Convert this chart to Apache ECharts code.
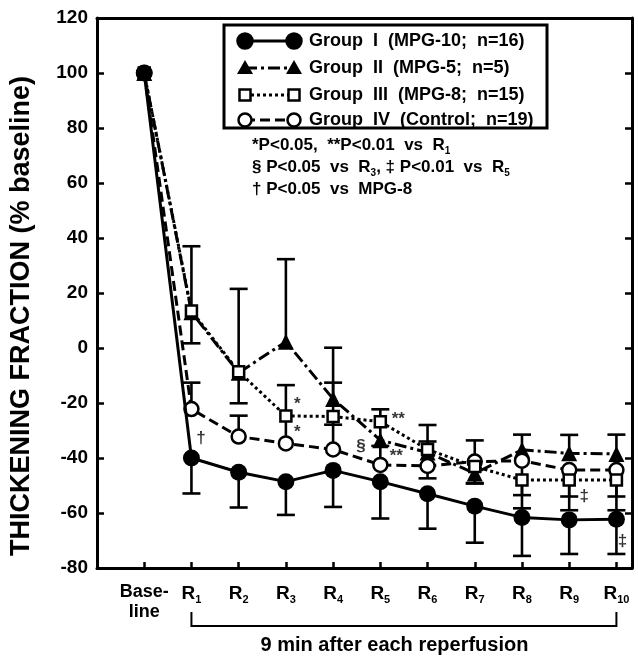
<!DOCTYPE html>
<html>
<head>
<meta charset="utf-8">
<script src="https://cdn.jsdelivr.net/npm/echarts@6/dist/echarts.min.js"></script>
<style>
  html, body { margin: 0; padding: 0; background: #fff; }
  #chart { width: 638px; height: 656px; }
</style>
</head>
<body>
<div id="chart"></div>
<script>
// x positions: 0 = baseline, 1..10 = R1..R10
const xPos = [0, 1, 2, 3, 4, 5, 6, 7, 8, 9, 10];
const xLabels = ['Base-|line', 'R|1', 'R|2', 'R|3', 'R|4', 'R|5', 'R|6', 'R|7', 'R|8', 'R|9', 'R|10'];

const groupNames = [
  'Group  I  (MPG-10;  n=16)',
  'Group  II  (MPG-5;  n=5)',
  'Group  III  (MPG-8;  n=15)',
  'Group  IV  (Control;  n=19)'
];

// Group I  (MPG-10) filled circles, solid line, bars drawn downward
const group1 = [100, -40, -45.2, -48.6, -44.5, -48.6, -53, -57.5, -61.6, -62.5, -62.3];
const group1Down = [0, 12.9, 12.8, 12.1, 13.3, 13.4, 12.7, 13.3, 14, 12.4, 12.6];

// Group II (MPG-5) filled triangles, dash-dot line, bars drawn upward
const group2 = [100, 13, -9, 2.3, -18.5, -33.5, -38, -45.6, -37, -38.3, -38.5];
const group2Up = [0, 24, 30.5, 30, 18.6, 11.2, 10, 12, 5.5, 6.7, 7];

// Group III (MPG-8) open squares, dotted line, bars drawn downward
const group3 = [100, 13.5, -8.6, -24.7, -24.9, -26.8, -36.9, -43.1, -48, -48, -48];
const group3Down = [0, 11.8, 11.5, 0, 3, 0, 10.5, 6, 5.5, 6, 6];

// Group IV (control) open circles, dashed line
const group4 = [100, -22.2, -32.2, -34.7, -36.9, -42.5, -42.9, -41.3, -41, -44.4, -44.4];
const group4Up = [0, 9.6, 7.6, 21.2, 24.3, 6.9, 8.9, 0, 0, 0, 0];
const group4Down = [0, 0, 0, 0, 0, 0, 0, 8, 17.3, 14.6, 14.6];

// significance marks inside the plot [x, y, text]
const sigMarks = [
  [3.24, -20.4, '*'], [3.24, -30.8, '*'], [1.2, -32.7, '†'], [4.59, -35.6, '§'],
  [5.38, -25.8, '**'], [5.34, -39.5, '**'], [9.32, -54, '‡'], [10.13, -70.4, '‡']
];

const FONT = '"Liberation Sans", Arial, Helvetica, sans-serif';
const chart = echarts.init(document.getElementById('chart'));

function errorBars(name, values, up, down) {
  return {
    name: name, type: 'custom', z: 1, silent: true,
    renderItem: function (params, api) {
      const x = api.value(0), y = api.value(1);
      const c = api.coord([x, y]);
      const kids = [];
      [[api.value(2), 1], [api.value(3), -1]].forEach(function (p) {
        if (!(p[0] > 0)) return;
        const e = api.coord([x, y + p[1] * p[0]]);
        kids.push({ type: 'line', shape: { x1: c[0], y1: c[1], x2: e[0], y2: e[1] },
          style: { stroke: '#000', lineWidth: 2.6 } });
        kids.push({ type: 'line', shape: { x1: e[0] - 9, y1: e[1], x2: e[0] + 9, y2: e[1] },
          style: { stroke: '#000', lineWidth: 2.6 } });
      });
      return { type: 'group', children: kids };
    },
    data: values.map(function (v, i) { return [xPos[i], v, up[i], down[i]]; })
  };
}

function lineSeries(name, values, symbol, size, filled, dash, width, z) {
  return {
    name: name, type: 'line', z: z,
    data: values.map(function (v, i) { return [xPos[i], v]; }),
    symbol: symbol, symbolSize: size, showAllSymbol: true,
    lineStyle: { color: '#000', width: width, type: dash },
    itemStyle: { color: filled ? '#000' : '#fff', borderColor: '#000', borderWidth: filled ? 0 : 2.5, opacity: 1 },
    emphasis: { disabled: true }
  };
}

const axisCommon = {
  axisLine: { show: true, onZero: false, lineStyle: { color: '#000', width: 3 } },
  splitLine: { show: false }
};

chart.setOption({
  animation: false,
  grid: { left: 97, right: 6, top: 18, bottom: 88 },
  xAxis: [
    Object.assign({
      type: 'value', min: -1, max: 10.33, interval: 1, position: 'bottom',
      axisTick: { show: true, inside: true, length: 6, lineStyle: { color: '#000', width: 2.5 } },
      axisLabel: {
        margin: 14, color: '#000',
        formatter: function (v) {
          if (v < 0 || Math.abs(v - Math.round(v)) > 0.01) return '';
          const parts = xLabels[Math.round(v)].split('|');
          if (parts[0] === 'R') return '{r|R}{s|' + parts[1] + '}';
          return '{b|' + parts[0] + '}\n{b|' + parts[1] + '}';
        },
        rich: {
          b: { fontSize: 18, fontWeight: 'bold', fontFamily: FONT, lineHeight: 20, color: '#000' },
          r: { fontSize: 19, fontWeight: 'bold', fontFamily: FONT, lineHeight: 23, verticalAlign: 'middle', color: '#000' },
          s: { fontSize: 11, fontWeight: 'bold', fontFamily: FONT, lineHeight: 23, verticalAlign: 'bottom', color: '#000' }
        }
      }
    }, axisCommon),
    Object.assign({
      type: 'value', min: -1, max: 10.33, position: 'top',
      axisTick: { show: false }, axisLabel: { show: false }
    }, axisCommon)
  ],
  yAxis: [
    Object.assign({
      type: 'value', min: -80, max: 120, interval: 20,
      axisTick: { show: true, inside: true, length: 7, lineStyle: { color: '#000', width: 2.5 } },
      axisLabel: { fontSize: 19, fontWeight: 'bold', fontFamily: FONT, color: '#000', margin: 9 }
    }, axisCommon),
    Object.assign({
      type: 'value', min: -80, max: 120, interval: 20, position: 'right',
      axisTick: { show: true, inside: true, length: 7, lineStyle: { color: '#000', width: 2.5 } },
      axisLabel: { show: false }
    }, axisCommon)
  ],
  series: [
    errorBars('g1err', group1, group1.map(function () { return 0; }), group1Down),
    errorBars('g2err', group2, group2Up, group2.map(function () { return 0; })),
    errorBars('g3err', group3, group3.map(function () { return 0; }), group3Down),
    errorBars('g4err', group4, group4Up, group4Down),
    lineSeries(groupNames[1], group2, 'triangle', 16, true, [12, 4, 3, 4], 3, 3),
    lineSeries(groupNames[3], group4, 'circle', 14, false, [10, 5], 3, 4),
    lineSeries(groupNames[2], group3, 'rect', 11, false, [3, 3], 3, 5),
    lineSeries(groupNames[0], group1, 'circle', 17, true, 'solid', 3, 6),
    {
      type: 'scatter', z: 7, silent: true, symbolSize: 0,
      data: sigMarks,
      label: {
        show: true, position: 'inside', color: '#000',
        fontSize: 17, fontWeight: 'bold', fontFamily: FONT,
        formatter: function (p) { return p.data[2]; }
      }
    }
  ]
});

// layout elements that follow the axis scale
const px = function (x, y) { return chart.convertToPixel({ xAxisIndex: 0, yAxisIndex: 0 }, [x, y]); };
const left = px(1, 0)[0], right = px(10, 0)[0];
const bracketY = 626;

const legendStyles = [
  { symbol: 'circle', fill: '#000', dash: null },
  { symbol: 'triangle', fill: '#000', dash: [12, 4, 3, 4] },
  { symbol: 'rect', fill: '#fff', dash: [3, 3] },
  { symbol: 'circle', fill: '#fff', dash: [10, 5] }
];
const rowY = [41, 68, 95, 120];

function legendSymbol(kind, fill, cx, cy) {
  const st = { fill: fill, stroke: '#000', lineWidth: 2.5 };
  if (kind === 'circle') return { type: 'circle', shape: { cx: cx, cy: cy, r: fill === '#000' ? 7.5 : 6.5 }, style: st };
  if (kind === 'rect') return { type: 'rect', shape: { x: cx - 5.5, y: cy - 5.5, width: 11, height: 11 }, style: st };
  return { type: 'polygon', shape: { points: [[cx, cy - 8], [cx + 8, cy + 6], [cx - 8, cy + 6]] }, style: { fill: '#000' } };
}

const graphics = [
  { type: 'rect', shape: { x: 224, y: 25, width: 323, height: 103 },
    style: { fill: '#fff', stroke: '#000', lineWidth: 3 }, z: 10 }
];
legendStyles.forEach(function (ls, i) {
  const y = rowY[i];
  graphics.push({ type: 'line', z: 11, shape: { x1: 245, y1: y, x2: 294, y2: y },
    style: { stroke: '#000', lineWidth: 3, lineDash: ls.dash } });
  graphics.push(Object.assign(legendSymbol(ls.symbol, ls.fill, 245, y), { z: 12 }));
  graphics.push(Object.assign(legendSymbol(ls.symbol, ls.fill, 294, y), { z: 12 }));
  graphics.push({ type: 'text', z: 12, x: 309, y: y,
    style: { text: groupNames[i], font: 'bold 18px ' + FONT, fill: '#000', verticalAlign: 'middle' } });
});

graphics.push({
  type: 'text', z: 12, x: 252, y: 134,
  style: {
    text: '*P<0.05,  **P<0.01  vs  R{s|1}\n§ P<0.05  vs  R{s|3}, ‡ P<0.01  vs  R{s|5}\n† P<0.05  vs  MPG-8',
    font: 'bold 17px ' + FONT, fill: '#000', lineHeight: 22,
    rich: { s: { fontSize: 10, fontWeight: 'bold', fontFamily: FONT, verticalAlign: 'bottom', lineHeight: 19 } }
  }
});

graphics.push({
  type: 'text', x: 22, y: 316, rotation: Math.PI / 2,
  style: { text: 'THICKENING FRACTION (% baseline)', font: 'bold 27px ' + FONT, fill: '#000',
    align: 'center', verticalAlign: 'middle' }
});

graphics.push({
  type: 'polyline',
  shape: { points: [[left, bracketY - 14], [left, bracketY], [right, bracketY], [right, bracketY - 14]] },
  style: { stroke: '#000', lineWidth: 2, fill: null }
});
graphics.push({
  type: 'text', x: px(5.3, 0)[0], y: 645,
  style: { text: '9 min after each reperfusion', font: 'bold 20px ' + FONT, fill: '#000',
    align: 'center', verticalAlign: 'middle' }
});

chart.setOption({ graphic: graphics });
</script>
</body>
</html>
